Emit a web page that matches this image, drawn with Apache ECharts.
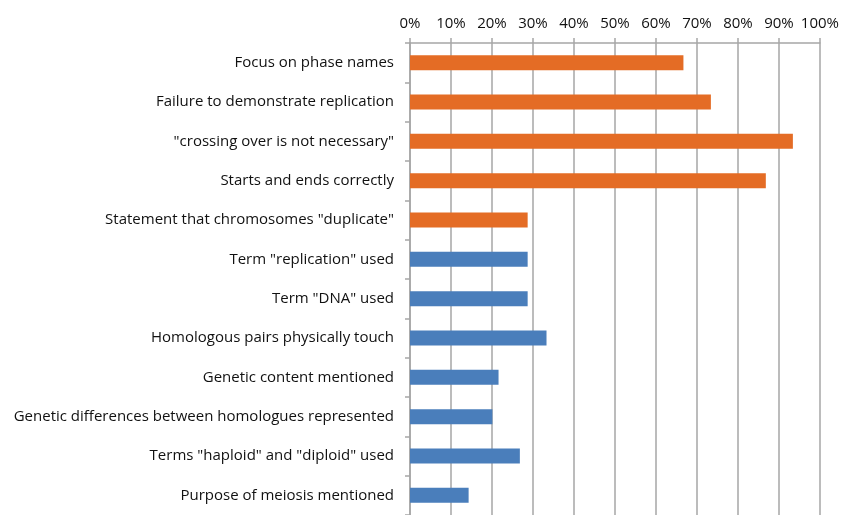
<!DOCTYPE html>
<html><head><meta charset="utf-8">
<script src="https://cdn.jsdelivr.net/npm/echarts@6/dist/echarts.min.js"></script>
<style>html,body{margin:0;padding:0;background:#fff}#c{width:842px;height:515px}</style>
</head><body><div id="c"></div>
<script>
const categories = [
  'Focus on phase names',
  'Failure to demonstrate replication',
  '"crossing over is not necessary"',
  'Starts and ends correctly',
  'Statement that chromosomes "duplicate"',
  'Term "replication" used',
  'Term "DNA" used',
  'Homologous pairs physically touch',
  'Genetic content mentioned',
  'Genetic differences between homologues represented',
  'Terms "haploid" and "diploid" used',
  'Purpose of meiosis mentioned'
];
const values = [66.7, 73.4, 93.4, 86.8, 28.7, 28.7, 28.7, 33.3, 21.6, 20.1, 26.8, 14.3];
const groups = ['o','o','o','o','o','b','b','b','b','b','b','b'];
const tickLabels = ['0%','10%','20%','30%','40%','50%','60%','70%','80%','90%','100%'];

const groupColor = {o: '#E46C25', b: '#4A7EBB'};
const chart = echarts.init(document.getElementById('c'));
chart.setOption({
  animation: false,
  grid: {left: 410, right: 21, top: 43, height: 478},
  xAxis: {
    type: 'value', position: 'top', min: 0, max: 100, interval: 10,
    axisLine: {show: true, lineStyle: {color: '#a6a6a6', width: 1.5}},
    axisTick: {show: true, length: 5, lineStyle: {color: '#a6a6a6', width: 1.5}},
    splitLine: {show: true, lineStyle: {color: '#a6a6a6', width: 1.5}},
    axisLabel: {formatter: v => tickLabels[Math.round(v / 10)], color: '#111', fontFamily: 'Open Sans', fontSize: 15, margin: 12}
  },
  yAxis: {
    type: 'category', inverse: true, data: categories,
    axisLine: {show: true, lineStyle: {color: '#a6a6a6', width: 1.5}},
    axisTick: {show: true, length: 5, lineStyle: {color: '#a6a6a6', width: 1.5}},
    axisLabel: {color: '#111', fontFamily: 'Open Sans', fontSize: 15, margin: 16}
  },
  series: [{
    type: 'bar', barWidth: 15,
    data: values.map((v, i) => ({value: v, itemStyle: {color: groupColor[groups[i]]}}))
  }]
});
</script></body></html>
